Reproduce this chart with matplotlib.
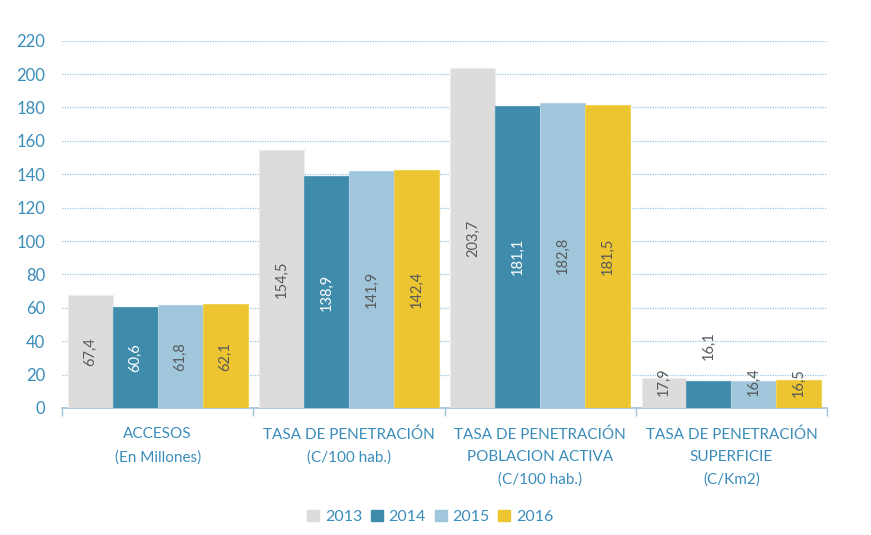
import numpy as np
import matplotlib.pyplot as plt
from matplotlib.patches import Patch

# ------------------------------------------------------------------ #
# Data
# ------------------------------------------------------------------ #
categories = [
    "ACCESOS\n(En Millones)",
    "TASA DE PENETRACIÓN\n(C/100 hab.)",
    "TASA DE PENETRACIÓN\nPOBLACION ACTIVA\n(C/100 hab.)",
    "TASA DE PENETRACIÓN\nSUPERFICIE\n(C/Km2)",
]
years = ["2013", "2014", "2015", "2016"]
v2013 = [67.4, 154.5, 203.7, 17.9]
v2014 = [60.6, 138.9, 181.1, 16.1]
v2015 = [61.8, 141.9, 182.8, 16.4]
v2016 = [62.1, 142.4, 181.5, 16.5]
yticks = [0, 20, 40, 60, 80, 100, 120, 140, 160, 180, 200, 220]

series = [v2013, v2014, v2015, v2016]
colors = ["#dedcdb", "#3f8bab", "#a0c6dc", "#ecc530"]
edge_colors = ["#ececea", "#5c9dba", "#b5d3e4", "#f1d35a"]
label_colors = ["#595959", "white", "#595959", "#595959"]
blue_txt = "#3a8dbb"

plt.rcParams["font.family"] = ["Lato", "DejaVu Sans"]

fig = plt.figure(figsize=(8.71, 5.35), dpi=100)
ax = fig.add_axes([0.0712, 0.2374, 0.8783, 0.6865])

n_groups = len(categories)
bar_w = 0.235
x = np.arange(n_groups)

for i, (vals, col) in enumerate(zip(series, colors)):
    pos = x - 1.5 * bar_w + i * bar_w
    ax.bar(pos, vals, width=bar_w, color=col, edgecolor=edge_colors[i],
           linewidth=0.8, zorder=3)
    for xp, v in zip(pos, vals):
        txt = f"{v:.1f}".replace(".", ",")
        tcol = label_colors[i]
        if v < 30:
            # small bars: Excel pushes the label up
            if i == 1:
                ypos = v + 21
                tcol = "#595959"
            else:
                ypos = 15.5
        else:
            ypos = v / 2
        ax.text(xp, ypos, txt, rotation=90, ha="center", va="center",
                fontsize=10.5, color=tcol, zorder=4)

ax.set_xlim(-0.5, n_groups - 0.5)
ax.set_ylim(0, 220)
ax.set_yticks(yticks)
ax.set_yticklabels([str(t) for t in yticks], fontsize=12, color=blue_txt)
ax.tick_params(axis="y", length=0, pad=12)

ax.set_xticks(x)
ax.set_xticklabels(categories, fontsize=11, color=blue_txt, linespacing=1.75)
ax.tick_params(axis="x", length=0, pad=14)

# group separators on the x axis
ax.set_xticks(np.arange(-0.5, n_groups, 1.0), minor=True)
ax.tick_params(axis="x", which="minor", length=6, width=1, color="#9dc3d9",
               direction="out")

ax.grid(axis="y", linestyle=(0, (1, 1)), color="#9cc6df", linewidth=0.9,
        zorder=0)
for s in ["top", "right", "left"]:
    ax.spines[s].set_visible(False)
ax.spines["bottom"].set_color("#9dc3d9")
ax.spines["bottom"].set_linewidth(1.2)

handles = [Patch(facecolor=c, edgecolor=c) for c in colors]
leg = fig.legend(handles, years, loc="center", bbox_to_anchor=(0.494, 0.034),
                 ncol=4, frameon=False, fontsize=11.5, handlelength=0.75,
                 handleheight=0.75, handletextpad=0.35, columnspacing=0.55)
for t in leg.get_texts():
    t.set_color(blue_txt)

fig.savefig("out.png", dpi=100)
